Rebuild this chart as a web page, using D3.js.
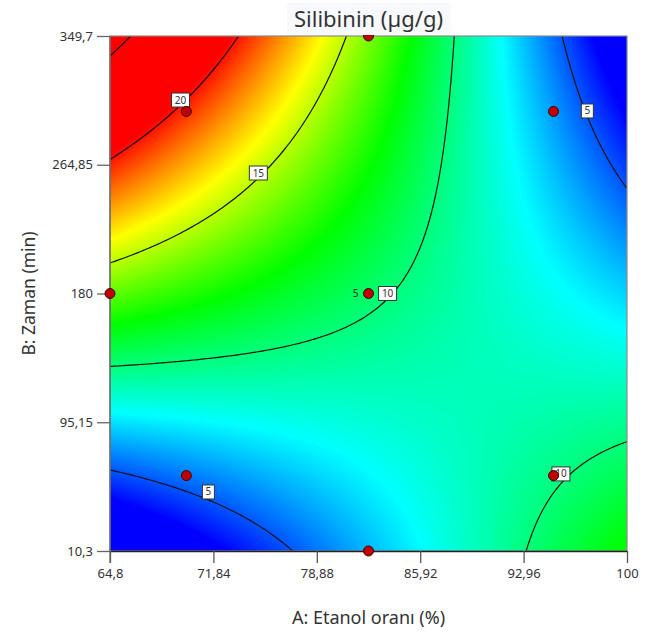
<!DOCTYPE html>
<html>
<head>
<meta charset="utf-8">
<script src="https://cdn.jsdelivr.net/npm/d3@7"></script>
<style>
  body { margin: 0; background: #fff; }
  svg { font-family: "Noto Sans", "Open Sans", sans-serif; }
</style>
</head>
<body>
<div id="chart"></div>
<script>
// response surface model, coded units
// order: b0, A, B, AB, A^2, B^2
const coefs = [10.3, -2.29, 2.6, -4.4, 0, 0];
const codingA = [82.4, 12.5]; // center, step
const codingB = [180, 120];

const levels = [5, 10, 15, 20, 25];

// design points
const designA = [70, 95, 70, 95, 82.4, 64.8, 82.4, 82.4];
const designB = [300, 300, 60, 60, 180, 180, 349.7, 10.3];

const xTicks = [64.8, 71.84, 78.88, 85.92, 92.96, 100];
const yTicks = [10.3, 95.15, 180, 264.85, 349.7];

// contour label spots
const labelLevels = [20, 15, 10, 5, 5, 10];
const labelA = [69.6, 74.9, 83.7, 97.3, 71.5, 95.5];
const labelB = [307.5, 259.4, 180, 300.3, 49.2, 61.1];

// colour ramp
const colorStops = [3.6, 7.8, 12, 16.1, 20.3];
const colorNames = ["#0000ff", "#00ffff", "#00ff00", "#ffff00", "#ff0000"];

let width = 653,
    height = 632,
    margin = ({ top: 36, right: 26, bottom: 81, left: 110 });

const svg = d3.select("#chart")
  .append("svg")
  .attr("width", width)
  .attr("height", height)
  .attr("viewBox", [0, 0, width, height]);

let x = d3.scaleLinear()
  .domain([64.8, 100])
  .range([margin.left, width - margin.right]);

let y = d3.scaleLinear()
  .domain([10.3, 349.7])
  .range([height - margin.bottom, margin.top]);

let color = d3.scaleLinear()
  .domain(colorStops)
  .range(colorNames)
  .clamp(true);

function model(a, b) {
  const u = (a - codingA[0]) / codingA[1],
        v = (b - codingB[0]) / codingB[1];
  return coefs[0] + coefs[1] * u + coefs[2] * v + coefs[3] * u * v
    + coefs[4] * u * u + coefs[5] * v * v;
}

const x0 = x.range()[0], x1 = x.range()[1],
      y0 = y.range()[1], y1 = y.range()[0];
const pw = Math.round(x1 - x0), ph = Math.round(y1 - y0);

// colour fill of the surface
const canvas = document.createElement("canvas");
canvas.width = pw;
canvas.height = ph;
const ctx = canvas.getContext("2d");
const img = ctx.createImageData(pw, ph);
for (let j = 0; j < ph; j++) {
  const b = y.invert(y0 + j + 0.5);
  for (let i = 0; i < pw; i++) {
    const c = d3.rgb(color(model(x.invert(x0 + i + 0.5), b)));
    const k = (j * pw + i) * 4;
    img.data[k] = c.r;
    img.data[k + 1] = c.g;
    img.data[k + 2] = c.b;
    img.data[k + 3] = 255;
  }
}
ctx.putImageData(img, 0, 0);

svg.append("image")
  .attr("x", x0)
  .attr("y", y0)
  .attr("width", pw)
  .attr("height", ph)
  .attr("preserveAspectRatio", "none")
  .attr("href", canvas.toDataURL());

// contour lines, grid a bit bigger than the plot so the edges get clipped away
const gs = 2, gx0 = x0 - 10, gy0 = y0 - 10;
const gn = Math.ceil((pw + 20) / gs) + 1, gm = Math.ceil((ph + 20) / gs) + 1;
const grid = new Array(gn * gm);
for (let j = 0; j < gm; j++) {
  for (let i = 0; i < gn; i++) {
    grid[j * gn + i] = model(x.invert(gx0 + i * gs), y.invert(gy0 + j * gs));
  }
}
const contours = d3.contours().size([gn, gm]).thresholds(levels)(grid);
const proj = d3.geoTransform({
  point(px, py) { this.stream.point(gx0 + (px - 0.5) * gs, gy0 + (py - 0.5) * gs); }
});

svg.append("clipPath")
  .attr("id", "plotclip")
  .append("rect")
  .attr("x", x0).attr("y", y0)
  .attr("width", pw).attr("height", ph);

svg.append("g")
  .attr("clip-path", "url(#plotclip)")
  .selectAll("path")
  .data(contours)
  .join("path")
  .attr("d", d3.geoPath(proj))
  .attr("fill", "none")
  .attr("stroke", "#111")
  .attr("stroke-width", 1.2);

// frame
svg.append("rect")
  .attr("x", x0).attr("y", y0)
  .attr("width", pw).attr("height", ph)
  .attr("fill", "none")
  .attr("stroke", "#8a8a8a")
  .attr("stroke-width", 1.2);

const fmt = d => String(d).replace(".", ",");

svg.append("g") // x axis
  .attr("transform", `translate(0,${y1})`)
  .call(d3.axisBottom(x).tickValues(xTicks).tickFormat(fmt).tickSize(12).tickSizeOuter(0).tickPadding(6))
  .call(g => g.select(".domain").attr("stroke", "#222").attr("stroke-width", 1.3))
  .call(g => g.selectAll(".tick line").attr("stroke", "#555").attr("stroke-width", 1.3))
  .call(g => g.selectAll(".tick text").attr("fill", "#333").attr("font-size", 13)
    .attr("font-family", "'Noto Sans', sans-serif"));

svg.append("g") // y axis
  .attr("transform", `translate(${x0},0)`)
  .call(d3.axisLeft(y).tickValues(yTicks).tickFormat(fmt).tickSize(13).tickSizeOuter(0).tickPadding(4))
  .call(g => g.select(".domain").attr("stroke", "#666").attr("stroke-width", 1.3)
    .attr("d", `M0,${y0}V${y1 + 12}`))
  .call(g => g.selectAll(".tick line").attr("stroke", "#666").attr("stroke-width", 1.3))
  .call(g => g.selectAll(".tick text").attr("fill", "#333").attr("font-size", 13)
    .attr("font-family", "'Noto Sans', sans-serif"));

// contour labels
const lab = svg.append("g")
  .selectAll("g")
  .data(labelLevels)
  .join("g")
  .attr("transform", (d, i) => `translate(${x(labelA[i])},${y(labelB[i])})`);

lab.append("rect")
  .attr("x", d => d >= 10 ? -9 : -6)
  .attr("y", -7)
  .attr("width", d => d >= 10 ? 18 : 12)
  .attr("height", 14)
  .attr("fill", "#fff")
  .attr("stroke", "#333")
  .attr("stroke-width", 1);

lab.append("text")
  .attr("text-anchor", "middle")
  .attr("dy", "0.35em")
  .attr("font-size", 10)
  .attr("fill", "#333")
  .text(d => d);

// design points
svg.append("g")
  .selectAll("circle")
  .data(designA)
  .join("circle")
  .attr("cx", (d, i) => x(d))
  .attr("cy", (d, i) => y(designB[i]))
  .attr("r", 5)
  .attr("fill", "#c00000")
  .attr("stroke", "#3a0000")
  .attr("stroke-width", 1);

// replicate count at center point
svg.append("text")
  .attr("x", x(82.4) - 10)
  .attr("y", y(180))
  .attr("dy", "0.35em")
  .attr("text-anchor", "end")
  .attr("font-size", 10)
  .attr("fill", "#222")
  .text("5");

// title
svg.append("rect")
  .attr("x", 287).attr("y", 3)
  .attr("width", 164).attr("height", 32)
  .attr("fill", "#f8f9fc");

svg.append("text")
  .attr("x", x(82.4))
  .attr("y", 27)
  .attr("text-anchor", "middle")
  .attr("font-size", 22)
  .attr("fill", "#333")
  .text("Silibinin (µg/g)");

svg.append("text")
  .attr("x", x(82.4))
  .attr("y", 624)
  .attr("text-anchor", "middle")
  .attr("font-size", 18)
  .attr("fill", "#333")
  .text("A: Etanol oranı (%)");

svg.append("text")
  .attr("transform", `translate(35,${y(180)}) rotate(-90)`)
  .attr("text-anchor", "middle")
  .attr("font-size", 17.5)
  .attr("fill", "#333")
  .text("B: Zaman (min)");
</script>
</body>
</html>
